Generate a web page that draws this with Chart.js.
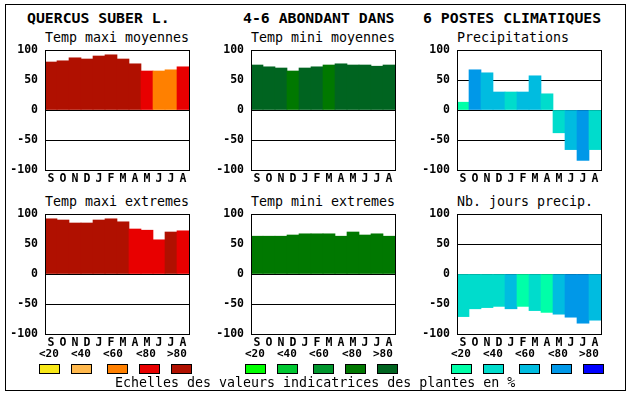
<!DOCTYPE html>
<html>
<head>
<meta charset="utf-8">
<script src="https://cdn.jsdelivr.net/npm/chart.js@4"></script>
<style>
body { margin:0; background:#fff; width:630px; height:394px; position:relative; overflow:hidden; font-family:"DejaVu Sans Mono", monospace; color:#000; }
.frame { position:absolute; left:5px; top:4px; width:621px; height:387px; border:1px solid #000; box-sizing:border-box; }
.txt { position:absolute; white-space:pre; line-height:16px; }
.head { font-weight:bold; font-size:14.8px; }
.sub { font-size:13.3px; }
.lab { font-weight:bold; font-size:11px; }
.sw { position:absolute; width:21px; height:10px; border:1px solid #000; box-sizing:border-box; }
canvas { position:absolute; }
</style>
</head>
<body>
<div class="frame"></div>
<div class="txt head" style="left:27px;top:10px">QUERCUS SUBER L.</div>
<div class="txt head" style="left:243px;top:10px">4-6 ABONDANT DANS</div>
<div class="txt head" style="left:423px;top:10px">6 POSTES CLIMATIQUES</div>

<div class="txt sub" style="left:45px;top:30px">Temp maxi moyennes</div>
<div class="txt sub" style="left:251px;top:30px">Temp mini moyennes</div>
<div class="txt sub" style="left:457px;top:30px">Precipitations</div>
<div class="txt sub" style="left:45px;top:194px">Temp maxi extremes</div>
<div class="txt sub" style="left:251px;top:194px">Temp mini extremes</div>
<div class="txt sub" style="left:457px;top:194px">Nb. jours precip.</div>

<canvas id="c1" width="186" height="146" style="left:5px;top:42px"></canvas>
<canvas id="c2" width="186" height="146" style="left:211px;top:42px"></canvas>
<canvas id="c3" width="186" height="146" style="left:417px;top:42px"></canvas>
<canvas id="c4" width="186" height="146" style="left:5px;top:206px"></canvas>
<canvas id="c5" width="186" height="146" style="left:211px;top:206px"></canvas>
<canvas id="c6" width="186" height="146" style="left:417px;top:206px"></canvas>

<div id="legend"></div>
<div class="txt sub" style="left:115px;top:375px">Echelles des valeurs indicatrices des plantes en %</div>

<script>
// months of the year, starting in september
const months = ["S", "O", "N", "D", "J", "F", "M", "A", "M", "J", "J", "A"];
const yMin = -100;
const yMax = 100;
const yStep = 50;

// classes: 0 = <20, 1 = <40, 2 = <60, 3 = <80, 4 = >80
const classLabels = ["<20", "<40", "<60", "<80", ">80"];
const redScale = ["#f8e818", "#ffb84c", "#ff8000", "#e80000", "#b01000"];
const greenScale = ["#00ff00", "#00c832", "#00962d", "#007800", "#006420"];
const blueScale = ["#00ffa8", "#00dccc", "#00bce0", "#0098e8", "#0000ff"];

const maxiMoy = [80, 82, 87, 85, 90, 92, 85, 77, 65, 65, 67, 72];
const maxiMoyCls = [4, 4, 4, 4, 4, 4, 4, 4, 3, 2, 2, 3];

const miniMoy = [75, 72, 70, 65, 70, 72, 75, 77, 75, 75, 73, 75];
const miniMoyCls = [4, 4, 4, 3, 4, 4, 3, 4, 4, 4, 4, 4];

const precip = [13, 67, 62, 30, 30, 30, 57, 27, -38, -66, -84, -66];
const precipCls = [0, 3, 2, 2, 1, 2, 2, 1, 1, 2, 3, 1];

const maxiExt = [92, 90, 85, 85, 90, 92, 87, 75, 73, 57, 70, 72];
const maxiExtCls = [4, 4, 4, 4, 4, 4, 4, 3, 3, 3, 4, 3];

const miniExt = [63, 63, 63, 65, 67, 67, 67, 63, 70, 65, 67, 63];
const miniExtCls = [3, 3, 3, 3, 3, 3, 3, 3, 3, 3, 3, 3];

const joursPrecip = [-71, -58, -56, -54, -58, -54, -61, -64, -67, -72, -82, -77];
const joursPrecipCls = [1, 1, 1, 1, 2, 0, 1, 0, 2, 3, 3, 2];

const tickFont = { family: "DejaVu Sans Mono", weight: "bold", size: 11.5, lineHeight: 1 };

// black box round the plot area
const boxPlugin = {
  id: "box",
  afterDraw(chart) {
    const a = chart.chartArea;
    const ctx = chart.ctx;
    ctx.save();
    ctx.strokeStyle = "#000";
    ctx.lineWidth = 1;
    ctx.strokeRect(a.left + 0.5, a.top + 0.5, a.right - a.left, a.bottom - a.top);
    ctx.restore();
  },
};

function makeChart(id, values, classes, palette) {
  new Chart(document.getElementById(id), {
    type: "bar",
    data: {
      labels: months,
      datasets: [
        {
          data: values,
          backgroundColor: classes.map((c) => palette[c]),
          borderWidth: 0,
          barPercentage: 1,
          categoryPercentage: 1,
        },
      ],
    },
    options: {
      responsive: false,
      animation: false,
      events: [],
      layout: { autoPadding: false, padding: { top: 8, right: 2, left: 0, bottom: 0 } },
      plugins: { legend: { display: false }, tooltip: { enabled: false } },
      scales: {
        x: {
          grid: { display: false, drawTicks: false },
          border: { display: false },
          ticks: { autoSkip: false, maxRotation: 0, minRotation: 0, padding: 3, color: "#000", font: tickFont },
          afterFit: (s) => { s.height = 18; s.paddingLeft = 0; s.paddingRight = 0; },
        },
        y: {
          min: yMin,
          max: yMax,
          z: 1,
          grid: { color: "#000", drawTicks: false },
          border: { display: false },
          ticks: { stepSize: yStep, padding: 7, color: "#000", font: tickFont },
          afterFit: (s) => { s.width = 40; s.paddingTop = 0; s.paddingBottom = 0; },
        },
      },
    },
    plugins: [boxPlugin],
  });
}

makeChart("c1", maxiMoy, maxiMoyCls, redScale);
makeChart("c2", miniMoy, miniMoyCls, greenScale);
makeChart("c3", precip, precipCls, blueScale);
makeChart("c4", maxiExt, maxiExtCls, redScale);
makeChart("c5", miniExt, miniExtCls, greenScale);
makeChart("c6", joursPrecip, joursPrecipCls, blueScale);

// colour keys under each column
const legend = document.getElementById("legend");
const groupLeft = [39, 245, 451];
const labelOff = [0, 32, 64, 97, 128];
const swatchOff = [0, 32, 68, 100, 132];
[redScale, greenScale, blueScale].forEach((pal, g) => {
  classLabels.forEach((lab, i) => {
    const t = document.createElement("div");
    t.className = "txt lab";
    t.style.left = groupLeft[g] + labelOff[i] + "px";
    t.style.top = "346px";
    t.textContent = lab;
    legend.appendChild(t);
    const s = document.createElement("div");
    s.className = "sw";
    s.style.left = groupLeft[g] + swatchOff[i] + "px";
    s.style.top = "364px";
    s.style.background = pal[i];
    legend.appendChild(s);
  });
});
</script>
</body>
</html>
